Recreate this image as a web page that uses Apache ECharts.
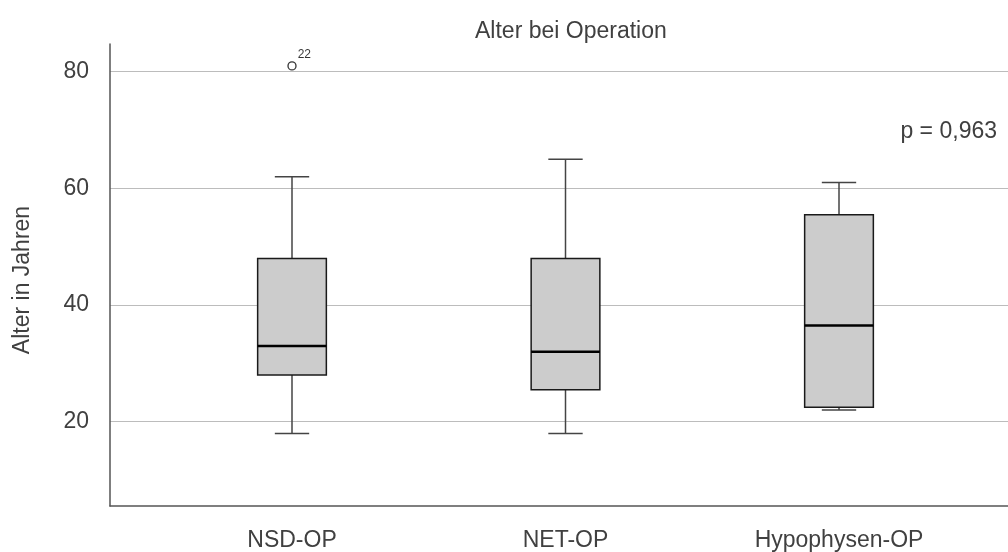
<!DOCTYPE html>
<html>
<head>
<meta charset="utf-8">
<script src="https://cdn.jsdelivr.net/npm/echarts@6/dist/echarts.min.js"></script>
<style>
  html, body { margin: 0; padding: 0; background: #fff; }
  #chart { width: 1008px; height: 552px; }
</style>
</head>
<body>
<div id="chart"></div>
<script>
// Age at surgery by procedure group (box plot statistics, years)
const categories = ['NSD-OP', 'NET-OP', 'Hypophysen-OP'];
const lowerWhisker = [18, 18, 22];
const quartile1 = [28, 25.5, 22.5];
const medians = [33, 32, 36.5];
const quartile3 = [48, 48, 55.5];
const upperWhisker = [62, 65, 61];

// Outliers: group index, value, case id
const outlierGroup = [0];
const outlierValue = [81];
const outlierId = ['22'];

const yTicks = [20, 40, 60, 80];
const titleText = 'Alter bei Operation';
const yAxisTitle = 'Alter in Jahren';
const pValueText = 'p = 0,963';

const textColor = '#404040';
const fontFamily = '"Liberation Sans", Arial, Helvetica, sans-serif';

const boxData = categories.map((c, i) => [
  i + 1, lowerWhisker[i], quartile1[i], medians[i], quartile3[i], upperWhisker[i]
]);
const outlierData = outlierGroup.map((g, i) => [g + 1, outlierValue[i]]);

function renderBox(params, api) {
  const x = api.value(0);
  const unit = api.size([1, 0])[0];
  const half = unit * 0.1256;
  const capHalf = half / 2;
  const pLow = api.coord([x, api.value(1)]);
  const pQ1 = api.coord([x, api.value(2)]);
  const pMed = api.coord([x, api.value(3)]);
  const pQ3 = api.coord([x, api.value(4)]);
  const pHigh = api.coord([x, api.value(5)]);
  const cx = pMed[0];
  const whiskerStyle = { stroke: '#444', lineWidth: 1.5 };
  return {
    type: 'group',
    children: [
      { type: 'line', shape: { x1: cx, y1: pHigh[1], x2: cx, y2: pQ3[1] }, style: whiskerStyle },
      { type: 'line', shape: { x1: cx, y1: pQ1[1], x2: cx, y2: pLow[1] }, style: whiskerStyle },
      { type: 'line', shape: { x1: cx - capHalf, y1: pHigh[1], x2: cx + capHalf, y2: pHigh[1] }, style: whiskerStyle },
      { type: 'line', shape: { x1: cx - capHalf, y1: pLow[1], x2: cx + capHalf, y2: pLow[1] }, style: whiskerStyle },
      {
        type: 'rect',
        shape: { x: cx - half, y: pQ3[1], width: half * 2, height: pQ1[1] - pQ3[1] },
        style: { fill: '#cccccc', stroke: '#1a1a1a', lineWidth: 1.5 }
      },
      { type: 'line', shape: { x1: cx - half, y1: pMed[1], x2: cx + half, y2: pMed[1] }, style: { stroke: '#000', lineWidth: 2.5 } }
    ]
  };
}

const chart = echarts.init(document.getElementById('chart'), null, { renderer: 'canvas' });
chart.setOption({
  backgroundColor: '#ffffff',
  animation: false,
  textStyle: { fontFamily: fontFamily },
  title: {
    text: titleText,
    left: 470,
    top: 15,
    textStyle: { fontSize: 23, fontWeight: 'normal', color: textColor, fontFamily: fontFamily }
  },
  grid: { left: 110, right: 0, top: 44, bottom: 46 },
  xAxis: {
    type: 'value',
    min: 0.33455,
    max: 3.6179,
    axisLine: { show: true, lineStyle: { color: '#555', width: 1.5 } },
    axisTick: { show: false },
    splitLine: { show: false },
    axisLabel: {
      customValues: categories.map((c, i) => i + 1),
      formatter: v => categories[Math.round(v) - 1] || '',
      fontSize: 23,
      color: textColor,
      margin: 23
    }
  },
  yAxis: {
    type: 'value',
    min: 5.55,
    max: 84.75,
    name: yAxisTitle,
    nameLocation: 'middle',
    nameRotate: 90,
    nameGap: 76,
    nameTextStyle: { fontSize: 23, color: textColor, padding: [0, 10, 0, 0] },
    axisLine: { show: true, lineStyle: { color: '#555', width: 1.5 } },
    axisTick: { show: false, customValues: yTicks },
    splitLine: { show: true, lineStyle: { color: '#bcbcbc', width: 1.2 } },
    axisLabel: { customValues: yTicks, fontSize: 23, color: textColor, margin: 21 }
  },
  graphic: [
    {
      type: 'text',
      right: 11,
      top: 120,
      style: { text: pValueText, fontSize: 23, fill: textColor, fontFamily: fontFamily }
    }
  ],
  series: [
    {
      type: 'custom',
      renderItem: renderBox,
      data: boxData,
      encode: { x: 0, y: [1, 2, 3, 4, 5] },
      z: 3
    },
    {
      type: 'scatter',
      data: outlierData,
      symbol: 'circle',
      symbolSize: 8,
      itemStyle: { color: '#ffffff', borderColor: '#000', borderWidth: 1.3 },
      label: {
        show: true,
        position: 'right',
        distance: 1,
        offset: [0, -11],
        formatter: p => outlierId[p.dataIndex],
        fontSize: 12,
        color: '#000'
      },
      z: 4
    }
  ]
});
</script>
</body>
</html>
